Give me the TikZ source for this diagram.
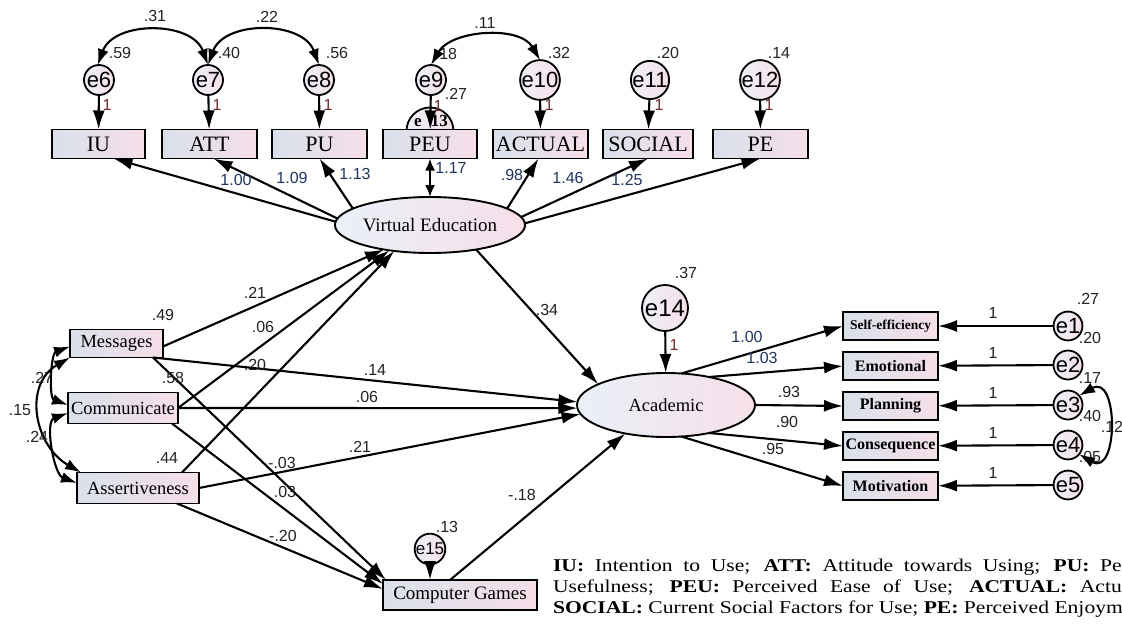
\documentclass[tikz,border=0pt]{standalone}
\usepackage{fontspec}
\setmainfont{Liberation Serif}
\newfontfamily\numfont{Liberation Sans}
\usetikzlibrary{arrows.meta,shapes.geometric,calc}
\definecolor{bl}{HTML}{D9E0EA}
\definecolor{pk}{HTML}{F6DFE9}
\definecolor{cltwo}{HTML}{EEF0F7}
\definecolor{el}{HTML}{EAF0F8}
\definecolor{nk}{HTML}{222222}
\definecolor{nv}{HTML}{1F3560}
\definecolor{rd}{HTML}{6A2C2C}
\newcommand\tpfont{\fontsize{22}{22}\selectfont}
\newcommand\lffont{\fontsize{18.5}{18.5}\selectfont}
\newcommand\rbfont{\bfseries\fontsize{16}{16}\selectfont}
\begin{document}
\begin{tikzpicture}[x=1pt,y=-1pt,
  every node/.style={inner sep=0pt, outer sep=0pt},
  obs/.style={draw=black, line width=1.9pt, left color=bl, right color=pk, minimum height=29pt, align=center},
  errc/.style={circle, draw=black, line width=1.8pt, left color=cltwo, right color=pk, minimum size=30pt, font=\numfont\fontsize{22}{22}\selectfont},
  lat/.style={ellipse, draw=black, line width=1.9pt, left color=el, right color=pk},
  num/.style={font=\numfont\fontsize{16}{16}\selectfont, text=nk},
  ld/.style={num, text=nv},
  one/.style={num, text=rd},
  arr/.style={line width=2.1pt, -{Latex[length=19pt,width=12pt]}},
  cov/.style={line width=2.1pt, {Latex[length=16pt,width=11pt]}-{Latex[length=16pt,width=11pt]}},
]
\fill[white] (0,0) rectangle (1122,630);
\useasboundingbox (0,0) rectangle (1122,630);

% ---------- top indicators ----------
\node[obs, minimum width=93pt, font=\tpfont] (iu) at (98.5,144) {IU};
\node[obs, minimum width=95pt, font=\tpfont] (att) at (209.5,144) {ATT};
\node[obs, minimum width=95pt, font=\tpfont] (pu) at (319.5,144) {PU};
\node[errc, minimum size=47pt] (e13) at (430,131) {};
\node[font=\bfseries\fontsize{17}{17}\selectfont] (e13t) at (431,121) {e\hspace{9pt}13};
\node[obs, minimum width=94pt, font=\tpfont] (peu) at (430,144) {PEU};
\node[obs, minimum width=95pt, font=\tpfont] (actual) at (540.5,144) {ACTUAL};
\node[obs, minimum width=90pt, font=\tpfont] (social) at (648,144) {SOCIAL};
\node[obs, minimum width=95pt, font=\tpfont] (pe) at (760.5,144) {PE};

\node[errc] (e6) at (99,80) {e6};
\node[errc] (e7) at (208,80) {e7};
\node[errc] (e8) at (319,80) {e8};
\node[errc] (e9) at (431,80) {e9};
\node[errc] (e10) at (540,80) {e10};
\node[errc] (e11) at (650,80) {e11};
\node[errc] (e12) at (760,80) {e12};

\node[num] (v18) at (446,54) {.18};
\node[num] at (456,94) {.27};
\node[one] at (438,106) {1};
\draw[arr] (e6) -- (iu);
\draw[arr] (e7) -- (att);
\draw[arr] (e8) -- (pu);
\draw[arr] (e9) -- (peu);
\draw[arr] (e10) -- (actual);
\draw[arr] (e11) -- (social);
\draw[arr] (e12) -- (pe);

\draw[cov] (e6.95) to[out=70,in=110,looseness=1.1] (e7.north);
\draw[cov] (e7.north) to[out=70,in=110,looseness=1.1] (e8.north);
\draw[cov] (e9.north) to[out=60,in=120,looseness=0.95] (e10.north);

\node[num] at (155,16) {.31};
\node[num] at (267,17) {.22};
\node[num] at (485,23) {.11};
\node[num] at (120,53) {.59};
\node[num] at (229,53) {.40};
\node[num] at (337,53) {.56};
\node[num] at (559,53) {.32};
\node[num] at (668,53) {.20};
\node[num] at (779,53) {.14};
\node[one] at (107,105) {1};
\node[one] at (217,105) {1};
\node[one] at (328,105) {1};
\node[one] at (549,105) {1};
\node[one] at (659,105) {1};
\node[one] at (769,105) {1};

% ---------- Virtual Education ----------
\node[lat, minimum width=176pt, minimum height=56pt, font=\fontsize{19}{19}\selectfont] (ve) at (430,225) {Virtual Education};
\draw[arr] (ve.178) -- ([xshift=15pt]iu.south);
\draw[arr] (ve.176) -- ([xshift=4pt]att.south);
\draw[arr] (ve.168) -- (pu.south);
\draw[line width=2.1pt, {Latex[length=12pt,width=10pt]}-{Latex[length=12pt,width=10pt]}] (ve.north) -- (peu.south);
\draw[arr] (ve.12) -- ([xshift=-2pt]actual.south);
\draw[arr] (ve.5) -- (social.south);
\draw[arr] (ve.1) -- (pe.south);
\node[ld] at (236,180) {1.00};
\node[ld] at (292,178) {1.09};
\node[ld] at (355,174) {1.13};
\node[ld] at (451,168) {1.17};
\node[ld] at (512,175) {.98};
\node[ld] at (568,178) {1.46};
\node[ld] at (627,180) {1.25};

% ---------- Academic ----------
\node[lat, minimum width=178pt, minimum height=64pt, font=\lffont] (ac) at (666,405) {Academic};
\node[errc, minimum size=46pt, font=\numfont\fontsize{24}{24}\selectfont] (e14) at (665,308) {e14};
\draw[arr] (e14) -- (ac);
\draw[arr] (ve.-28) -- (ac.163);
\node[num] at (547,310) {.34};
\node[num] at (686,273) {.37};
\node[one] at (674,345) {1};

% ---------- right indicators ----------
\node[obs, minimum width=95pt, minimum height=28pt, font=\bfseries\fontsize{13.5}{13.5}\selectfont] (se) at (890.5,326) {Self-efficiency};
\node[obs, minimum width=95pt, minimum height=28pt, font=\rbfont] (em) at (890.5,366) {Emotional};
\node[obs, minimum width=95pt, minimum height=28pt, font=\rbfont] (pl) at (890.5,406) {Planning};
\node[obs, minimum width=95pt, minimum height=28pt, font=\rbfont] (co) at (890.5,446) {Consequence};
\node[obs, minimum width=95pt, minimum height=28pt, font=\rbfont] (mo) at (890.5,486) {Motivation};
\node[errc, minimum size=28pt] (e1) at (1068,326) {e1};
\node[errc, minimum size=28pt] (e2) at (1068,365) {e2};
\node[errc, minimum size=28pt] (e3) at (1068,405) {e3};
\node[errc, minimum size=28pt] (e4) at (1068,445) {e4};
\node[errc, minimum size=28pt] (e5) at (1068,485) {e5};
\node[num] at (1090,457) {.05};
\draw[arr] (e1) -- (se);
\draw[arr] (e2) -- (em);
\draw[arr] (e3) -- (pl);
\draw[arr] (e4) -- (co);
\draw[arr] (e5) -- (mo);
\draw[arr] (ac.64) -- (se.west);
\draw[arr] (ac.33) -- (em.west);
\draw[arr] (ac.east) -- (pl.west);
\draw[arr] (ac.-33) -- (co.west);
\draw[arr] (ac.-64) -- (mo.west);
\draw[cov] (e3.40) to[out=30,in=-30,looseness=2] (e4.-40);
\node[ld] at (747,337) {1.00};
\node[ld] at (762,358) {1.03};
\node[num] at (789,392) {.93};
\node[num] at (787,422) {.90};
\node[num] at (773,449) {.95};
\foreach \yy in {313,353,393,433,473} \node[num] at (993,\yy) {1};
\node[num] at (1088,299) {.27};
\node[num] at (1090,338) {.20};
\node[num] at (1090,378) {.17};
\node[num] at (1090,416) {.40};
\node[num] at (1112,427) {.12};

% ---------- left exogenous ----------
\node[obs, minimum width=93pt, minimum height=28pt, font=\lffont] (mes) at (116.5,343.5) {Messages};
\node[obs, minimum width=110pt, minimum height=31pt, font=\lffont] (com) at (123,408) {Communicate};
\node[obs, minimum width=122pt, minimum height=31pt, font=\lffont] (ass) at (138,488) {Assertiveness};
\node[obs, minimum width=154pt, minimum height=30pt, font=\fontsize{19}{19}\selectfont] (cg) at (460,595) {Computer Games};
\node[errc, minimum size=23pt, font=\numfont\fontsize{17}{17}\selectfont] (e15) at (430,549) {e15};
\draw[arr] (e15) -- (e15 |- cg.north);

\draw[arr] ([yshift=-3pt]mes.east) -- (ve.-152);
\draw[arr] (com.east) -- (ve.-148);
\draw[arr] ([xshift=-17pt]ass.north east) -- (ve.-144);
\draw[arr] ([xshift=-10pt]mes.south east) -- (ac.178);
\draw[arr] (com.east) -- (ac.182);
\draw[arr] (ass.east) -- (ac.186);
\draw[arr] ([xshift=-10pt]mes.south east) -- ([xshift=3pt]cg.north west);
\draw[arr] ([xshift=-6pt]com.south east) -- ([yshift=-4pt]cg.north west);
\draw[arr] ([xshift=-22pt]ass.south east) -- ([yshift=6pt]cg.west);
\draw[arr] ([xshift=-10pt]cg.north) -- (ac.-145);

\draw[cov] ([yshift=-3pt]mes.west) to[out=200,in=160,looseness=0.9] ([yshift=3pt]com.west);
\draw[cov] (mes.south west) to[out=210,in=150,looseness=1.2] ([xshift=4pt]ass.north west);
\draw[cov] ([yshift=-5pt]com.west) to[out=200,in=160,looseness=0.9] ([yshift=5pt]ass.west);

\node[num] at (163,315) {.49};
\node[num] at (173,378) {.58};
\node[num] at (167,458) {.44};
\node[num] at (42,378) {.27};
\node[num] at (20,410) {.15};
\node[num] at (37,437) {.24};
\node[num] at (255,293) {.21};
\node[num] at (263,327) {.06};
\node[num] at (255,365) {.20};
\node[num] at (375,370) {.14};
\node[num] at (367,397) {.06};
\node[num] at (360,447) {.21};
\node[num] at (282,463) {-.03};
\node[num] at (285,492) {.03};
\node[num] at (283,536) {-.20};
\node[num] at (522,495) {-.18};
\node[num] at (447,527) {.13};

% ---------- legend ----------
\node[anchor=west, font=\fontsize{18}{18}\selectfont] (lg1) at (553,567) {\scalebox{1.2}[1]{\makebox[474pt][s]{\textbf{IU:} Intention to Use; \textbf{ATT:} Attitude towards Using; \textbf{PU:} Pe}}};
\node[anchor=west, font=\fontsize{18}{18}\selectfont] (lg2) at (553,588) {\scalebox{1.2}[1]{\makebox[474pt][s]{Usefulness; \textbf{PEU:} Perceived Ease of Use; \textbf{ACTUAL:} Actu}}};
\node[anchor=west, font=\fontsize{18}{18}\selectfont] (lg3) at (553,609) {\scalebox{1.2}[1]{\textbf{SOCIAL:} Current Social Factors for Use; \textbf{PE:} Perceived Enjoym}};
\end{tikzpicture}
\end{document}
